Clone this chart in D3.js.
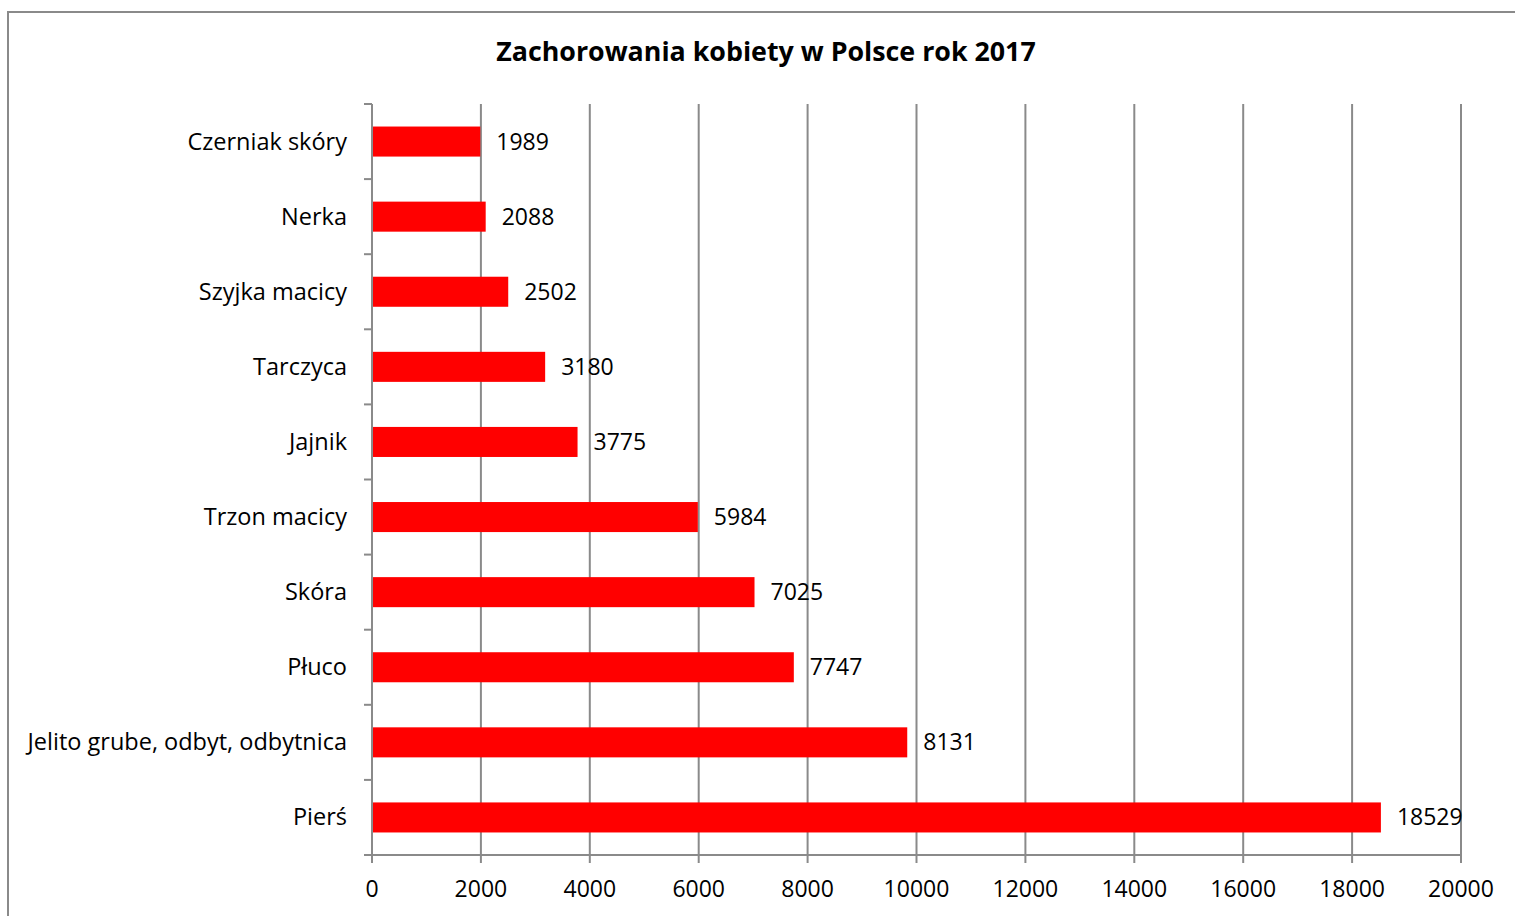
<!DOCTYPE html>
<html><head><meta charset="utf-8">
<script src="https://cdn.jsdelivr.net/npm/d3@7"></script>
<style>
html,body{margin:0;padding:0;background:#fff;}
svg{display:block;}
text{font-family:"Open Sans", Lato, sans-serif;}
</style></head>
<body>
<svg id="chart" width="1515" height="916"></svg>
<script>
const categories = ["Czerniak skóry","Nerka","Szyjka macicy","Tarczyca","Jajnik","Trzon macicy","Skóra","Płuco","Jelito grube, odbyt, odbytnica","Pierś"];
const barValues = [1989,2088,2502,3180,3775,5984,7025,7747,9830,18529];
const dataLabels = ["1989","2088","2502","3180","3775","5984","7025","7747","8131","18529"];
const xTicks = [0,2000,4000,6000,8000,10000,12000,14000,16000,18000,20000];
const title = "Zachorowania kobiety w Polsce rok 2017";

(function(){
const svg = d3.select("#chart");
const gray = "#8a8a8a";

// outer frame
svg.append("path").attr("d","M8,916 V12 H1515").attr("fill","none").attr("stroke",gray).attr("stroke-width",2);

const pL = 372, pR = 1461, pT = 104, pB = 855;
const x = d3.scaleLinear().domain([0,20000]).range([pL,pR]);
const y = d3.scaleBand().domain(categories).range([pT,pB]).paddingInner(0.6).paddingOuter(0.3);
const yEdges = d3.scaleLinear().domain([0,categories.length]).range([pT,pB]);

// gridlines
svg.append("g").selectAll("line").data(xTicks.slice(1)).join("line")
  .attr("x1",d=>x(d)).attr("x2",d=>x(d)).attr("y1",pT).attr("y2",pB)
  .attr("stroke",gray).attr("stroke-width",2);

// bars
svg.append("g").selectAll("rect").data(categories).join("rect")
  .attr("x",pL).attr("y",d=>y(d)).attr("width",(d,i)=>x(barValues[i])-pL).attr("height",y.bandwidth())
  .attr("fill","#ff0000");

// y axis line + ticks
svg.append("line").attr("x1",pL).attr("x2",pL).attr("y1",pT).attr("y2",pB+7).attr("stroke",gray).attr("stroke-width",2);
svg.append("g").selectAll("line").data(d3.range(categories.length+1)).join("line")
  .attr("x1",pL-8).attr("x2",pL).attr("y1",d=>yEdges(d)).attr("y2",d=>yEdges(d))
  .attr("stroke",gray).attr("stroke-width",2);

// x axis line + ticks
svg.append("line").attr("x1",pL-8).attr("x2",pR).attr("y1",pB).attr("y2",pB).attr("stroke",gray).attr("stroke-width",2);
svg.append("g").selectAll("line").data(xTicks).join("line")
  .attr("x1",d=>x(d)).attr("x2",d=>x(d)).attr("y1",pB).attr("y2",pB+8)
  .attr("stroke",gray).attr("stroke-width",2);

// x tick labels
svg.append("g").selectAll("text").data(xTicks).join("text")
  .attr("x",d=>x(d)).attr("y",897).attr("text-anchor","middle")
  .attr("font-size",23).attr("fill","#000").text(d=>d);

// category labels
svg.append("g").selectAll("text").data(categories).join("text")
  .attr("x",347).attr("y",d=>y(d)+y.bandwidth()/2+8).attr("text-anchor","end")
  .attr("font-size",23.5).attr("fill","#000").text(d=>d);

// data labels
svg.append("g").selectAll("text").data(categories).join("text")
  .attr("x",(d,i)=>x(barValues[i])+16).attr("y",d=>y(d)+y.bandwidth()/2+8)
  .attr("font-size",23).attr("fill","#000").text((d,i)=>dataLabels[i]);

// title
svg.append("text").attr("x",766).attr("y",61).attr("text-anchor","middle")
  .attr("font-size",26.8).attr("font-weight","bold").attr("fill","#000").text(title);
})();
</script>
</body></html>
